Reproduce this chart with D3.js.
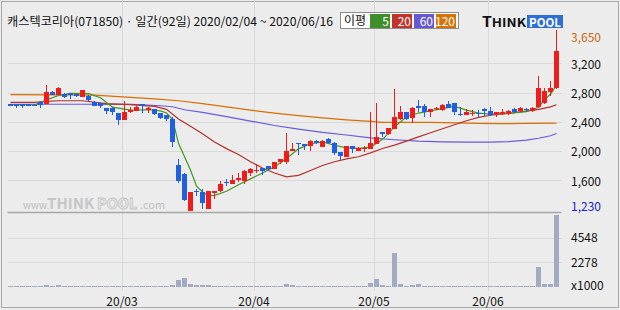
<!DOCTYPE html>
<html>
<head>
<meta charset="utf-8">
<script src="https://cdn.jsdelivr.net/npm/d3@7"></script>
<style>
body { margin: 0; background: #ececec; }
svg { display: block; }
text { font-family: "Noto Sans CJK KR", "Noto Sans", sans-serif; }
</style>
</head>
<body>
<svg width="620" height="310"></svg>
<script>
// 92 trading days, 2020/02/04 ~ 2020/06/16
var opens = [2640,2640,2640,2640,2630,2675,2640,2805,2770,2785,
  2790,2775,2745,2750,2670,2655,2590,2585,2520,2430,
  2540,2550,2640,2565,2570,2515,2490,2440,1815,1690,
  1185,1453,1440,1210,1430,1450,1575,1550,1605,1590,
  1705,1735,1765,1790,1760,1850,1845,2000,2110,2095,
  2070,2140,2060,2165,2115,1987,1925,2065,2000,2030,
  2035,2095,2255,2230,2305,2440,2530,2450,2620,2620,
  2530,2575,2555,2645,2655,2505,2497,2510,2520,2575,
  2545,2500,2510,2510,2575,2545,2575,2545,2600,2660,
  2810,2860];
var highs = [2650,2648,2650,2648,2640,2685,2905,2815,2870,2790,
  2800,2780,2840,2760,2680,2660,2595,2605,2525,2685,
  2605,2610,2645,2600,2575,2520,2500,2470,1890,1695,
  1445,1480,1480,1460,1460,1590,1620,1670,1705,1735,
  1775,1830,1770,1795,1855,1895,2250,2115,2115,2100,
  2150,2155,2150,2175,2120,1990,2075,2070,2050,2070,
  2540,2660,2260,2320,2850,2620,2540,2600,2705,2640,
  2580,2600,2650,2680,2660,2600,2570,2560,2565,2590,
  2600,2535,2575,2560,2590,2600,2595,2600,3020,2860,
  2955,3650];
var lows = [2610,2595,2595,2610,2610,2595,2638,2760,2765,2720,
  2710,2745,2740,2690,2615,2595,2505,2500,2355,2425,
  2525,2545,2525,2525,2500,2445,2410,2060,1565,1320,
  1182,1385,1203,1205,1350,1445,1520,1545,1580,1550,
  1660,1695,1675,1740,1755,1830,1830,1995,1950,2020,
  2005,2090,2050,2090,1945,1877,1920,1977,1995,1990,
  2030,2090,2190,2215,2300,2425,2430,2380,2530,2470,
  2470,2560,2550,2585,2490,2485,2490,2480,2465,2480,
  2475,2470,2500,2500,2520,2540,2540,2540,2590,2650,
  2750,2850];
var closes = [2615,2615,2618,2615,2615,2630,2810,2770,2860,2745,
  2770,2755,2835,2695,2620,2615,2545,2540,2425,2540,
  2565,2600,2620,2585,2505,2450,2440,2130,1595,1325,
  1443,1435,1285,1455,1455,1555,1560,1605,1630,1727,
  1755,1745,1730,1750,1850,1890,2000,2030,2090,2075,
  2137,2105,2140,2115,1977,1937,2069,2028,2045,2037,
  2115,2195,2230,2310,2470,2530,2440,2590,2595,2530,
  2570,2590,2635,2590,2530,2490,2534,2522,2508,2545,
  2500,2530,2535,2550,2530,2590,2560,2590,2860,2825,
  2860,3370];
// volume, thousands of shares
var volumes = [95,90,95,90,90,100,160,90,150,95,
  90,90,95,90,90,90,95,90,100,95,
  90,90,90,90,95,95,95,190,660,870,
  270,200,200,200,100,95,90,95,95,100,
  95,95,90,90,95,95,300,200,100,95,
  95,90,90,90,95,95,95,90,90,90,
  390,750,160,95,3115,300,95,160,300,95,
  95,90,95,95,95,95,90,90,95,90,
  90,90,95,95,90,95,90,95,1845,300,
  300,6630];

// moving averages: [day index, price]
var ma5 = [[0,2635],[4,2630],[6,2700],[8,2760],[10,2790],[13,2785],[15,2730],[17,2600],[20,2560],[23,2565],
  [25,2550],[26,2520],[27,2434],[28,2106],[30,1740],[31,1520],[32,1440],[33,1390],[34,1395],[36,1450],
  [38,1540],[40,1620],[42,1700],[44,1786],[46,1900],[48,2030],[50,2100],[52,2125],[54,2080],[56,2045],
  [58,2037],[60,2055],[62,2160],[64,2330],[66,2470],[68,2520],[70,2550],[72,2580],[74,2610],[76,2560],
  [78,2520],[80,2506],[83,2515],[86,2540],[88,2600],[89,2700],[90,2780],[91,2900]];
var ma20 = [[0,2666],[4,2666],[6,2680],[8,2688],[12,2688],[16,2650],[20,2635],[24,2610],[26,2570],[28,2440],
  [30,2340],[32,2237],[34,2125],[36,2034],[38,1953],[40,1855],[42,1769],[44,1700],[46,1648],[48,1668],
  [50,1735],[52,1803],[54,1854],[56,1893],[58,1922],[60,1975],[62,2035],[64,2082],[66,2137],[68,2195],
  [70,2250],[72,2305],[74,2360],[76,2415],[78,2460],[80,2490],[84,2525],[88,2570],[90,2605],[91,2634]];
var ma60 = [[0,2640],[12,2640],[20,2638],[22,2632],[25,2620],[27,2606],[29,2565],[32,2530],[36,2470],[40,2410],
  [44,2350],[48,2300],[52,2255],[56,2220],[60,2180],[64,2155],[68,2135],[72,2125],[76,2122],[80,2122],
  [83,2128],[86,2150],[88,2175],[90,2210],[91,2240]];
var ma120 = [[0,2771],[14,2765],[16,2755],[20,2735],[24,2715],[28,2688],[32,2650],[36,2605],[40,2560],[44,2520],
  [48,2485],[52,2455],[56,2428],[60,2405],[62,2393],[70,2392],[74,2386],[78,2378],[82,2375],[86,2380],[91,2383]];

var priceTicks = [3200, 2800, 2400, 2000, 1600];
var priceMax = 3650, priceMin = 1230;
var volTicks = [2278, 4548];
var monthIdx = [19, 41, 61, 80];
var monthLabels = ["20/03", "20/04", "20/05", "20/06"];
var maNames = ["5", "20", "60", "120"];
var title = "캐스텍코리아(071850) · 일간(92일) 2020/02/04 ~ 2020/06/16";

var svg = d3.select("svg"),
    left = 7.5, right = 561.5, top = 31.5, mid = 212.5, bottom = 288.5;

var x = d3.scaleBand().domain(d3.range(closes.length)).range([8, 560]),
    y = d3.scaleLinear().domain([priceMin, priceMax]).range([207.4, 30.4]),
    vy = d3.scaleLinear().domain([0, 6800]).range([287, 213]);

var upColor = "#f01c1c", downColor = "#1f5fe0";
var maColors = ["#3c9a1e", "#b5302a", "#6a5bd8", "#d86f00"],
    boxColors = ["#3e8e2a", "#c2332b", "#6657d6", "#d97206"];

// frame + outer border
svg.append("rect").attr("x", 1.5).attr("y", 1.5).attr("width", 617).attr("height", 306)
    .attr("fill", "#ececec").attr("stroke", "#a8a8a8");
svg.append("rect").attr("x", left).attr("y", top).attr("width", right - left).attr("height", bottom - top)
    .attr("fill", "#fff");

// grid
var grid = svg.append("g").attr("stroke", "#d9d9d9").attr("shape-rendering", "crispEdges");
grid.selectAll(".hp").data(priceTicks).enter().append("line")
    .attr("x1", left).attr("x2", right)
    .attr("y1", function(d) { return Math.round(y(d)) + 0.5; })
    .attr("y2", function(d) { return Math.round(y(d)) + 0.5; });
grid.selectAll(".hv").data(volTicks).enter().append("line")
    .attr("x1", left).attr("x2", right)
    .attr("y1", function(d) { return Math.round(vy(d)) + 0.5; })
    .attr("y2", function(d) { return Math.round(vy(d)) + 0.5; });
grid.selectAll(".vm").data(monthIdx).enter().append("line")
    .attr("x1", function(d) { return x(d) + 0.5; })
    .attr("x2", function(d) { return x(d) + 0.5; })
    .attr("y1", top).attr("y2", bottom + 2);

// watermark
var wm = svg.append("g").attr("font-family", "Liberation Sans, sans-serif");
wm.append("text").attr("x", 23).attr("y", 209).attr("font-size", 10).attr("fill", "#bdbdbd").text("www.");
wm.append("text").attr("x", 47).attr("y", 209).attr("font-size", 15).attr("font-weight", "bold")
    .attr("fill", "#c6c6c6").text("THINK");
wm.append("text").attr("x", 97).attr("y", 209).attr("font-size", 14.5).attr("font-weight", "bold")
    .attr("fill", "#e8e8e8").attr("stroke", "#c4c4c4").attr("stroke-width", 0.8).text("POOL");
wm.append("text").attr("x", 140).attr("y", 209).attr("font-size", 11).attr("fill", "#bdbdbd").text(".com");

// moving averages
var line = d3.line()
    .x(function(d) { return x(d[0]) + 2.5; })
    .y(function(d) { return y(d[1]); });
[ma120, ma60, ma20, ma5].forEach(function(s, k) {
  svg.append("path").datum(s)
      .attr("fill", "none")
      .attr("stroke", maColors[3 - k])
      .attr("stroke-width", 1.2)
      .attr("d", line);
});

// candles
var candle = svg.append("g").attr("shape-rendering", "crispEdges")
    .selectAll("g").data(closes).enter().append("g")
    .attr("fill", function(d, i) { return d >= opens[i] ? upColor : downColor; });
candle.append("rect")
    .attr("x", function(d, i) { return x(i) + 2; })
    .attr("width", 1)
    .attr("y", function(d, i) { return y(highs[i]); })
    .attr("height", function(d, i) { return Math.max(1, y(lows[i]) - y(highs[i])); });
candle.append("rect")
    .attr("x", function(d, i) { return x(i); })
    .attr("width", x.bandwidth() - 1)
    .attr("y", function(d, i) { return y(Math.max(d, opens[i])); })
    .attr("height", function(d, i) { return Math.max(1, Math.abs(y(d) - y(opens[i]))); });

// volume
svg.append("g").attr("shape-rendering", "crispEdges")
    .selectAll("rect").data(volumes).enter().append("rect")
    .attr("x", function(d, i) { return x(i); })
    .attr("width", x.bandwidth() - 1)
    .attr("y", function(d) { return vy(d); })
    .attr("height", function(d) { return vy(0) - vy(d); })
    .attr("fill", "#a3abc3");

// panel borders
var fr = svg.append("g").attr("fill", "none").attr("stroke", "#a6a6a6").attr("stroke-width", 1.5);
fr.append("rect").attr("x", left).attr("y", top).attr("width", right - left).attr("height", bottom - top);
fr.append("line").attr("x1", left).attr("x2", right).attr("y1", mid).attr("y2", mid);

// right axis labels
var lab = svg.append("g").attr("font-size", 12).attr("fill", "#111");
lab.selectAll(".pt").data(priceTicks).enter().append("text")
    .attr("x", 571).attr("y", function(d) { return y(d) + 1; }).attr("dy", "0.35em")
    .text(d3.format(","));
lab.append("text").attr("x", 571).attr("y", Math.max(y(priceMax), 37.7)).attr("dy", "0.35em")
    .attr("fill", "#c86a12").text(d3.format(",")(priceMax));
lab.append("text").attr("x", 571).attr("y", Math.min(y(priceMin), 206.7)).attr("dy", "0.35em")
    .attr("fill", "#1a22c8").text(d3.format(",")(priceMin));
lab.selectAll(".vt").data(volTicks).enter().append("text")
    .attr("x", 571).attr("y", function(d) { return vy(d) + 0.5; }).attr("dy", "0.35em")
    .text(function(d) { return d; });
lab.append("text").attr("x", 571).attr("y", 286).attr("dy", "0.35em").text("x1000");

// x labels
lab.selectAll(".xt").data(monthIdx).enter().append("text")
    .attr("x", function(d) { return x(d); }).attr("y", 305.5)
    .attr("text-anchor", "middle")
    .text(function(d, i) { return monthLabels[i]; });

// title
svg.append("text").attr("x", 7).attr("y", 26).attr("font-size", 12).attr("fill", "#111")
    .attr("textLength", 326).attr("lengthAdjust", "spacingAndGlyphs").text(title);

// MA legend
var lg = svg.append("g");
lg.append("rect").attr("x", 340.5).attr("y", 12.5).attr("width", 118).attr("height", 16)
    .attr("fill", "#fff").attr("stroke", "#8c8c8c");
lg.append("text").attr("x", 344).attr("y", 25).attr("font-size", 12).attr("fill", "#111").text("이평");
var bx = [370, 392, 414, 436];
maNames.forEach(function(n, i) {
  lg.append("rect").attr("x", bx[i]).attr("y", 14).attr("width", 20).attr("height", 14)
      .attr("fill", boxColors[i]);
  lg.append("text").attr("x", bx[i] + 19).attr("y", 25.5).attr("font-size", 12)
      .attr("text-anchor", "end").attr("fill", "#fff").text(n);
});

// logo
var logo = svg.append("g").attr("font-family", "Liberation Sans, sans-serif").attr("font-weight", "bold");
var t = logo.append("text").attr("x", 482).attr("y", 27).attr("fill", "#111")
    .attr("textLength", 44).attr("lengthAdjust", "spacingAndGlyphs");
t.append("tspan").attr("font-size", 14).text("T");
t.append("tspan").attr("font-size", 12).text("HINK");
logo.append("rect").attr("x", 527).attr("y", 15).attr("width", 36).attr("height", 13).attr("fill", "#2f6fd5");
logo.append("text").attr("x", 529).attr("y", 26.5).attr("font-size", 12).attr("fill", "#fff")
    .attr("textLength", 32).attr("lengthAdjust", "spacingAndGlyphs").text("POOL");
</script>
</body>
</html>
